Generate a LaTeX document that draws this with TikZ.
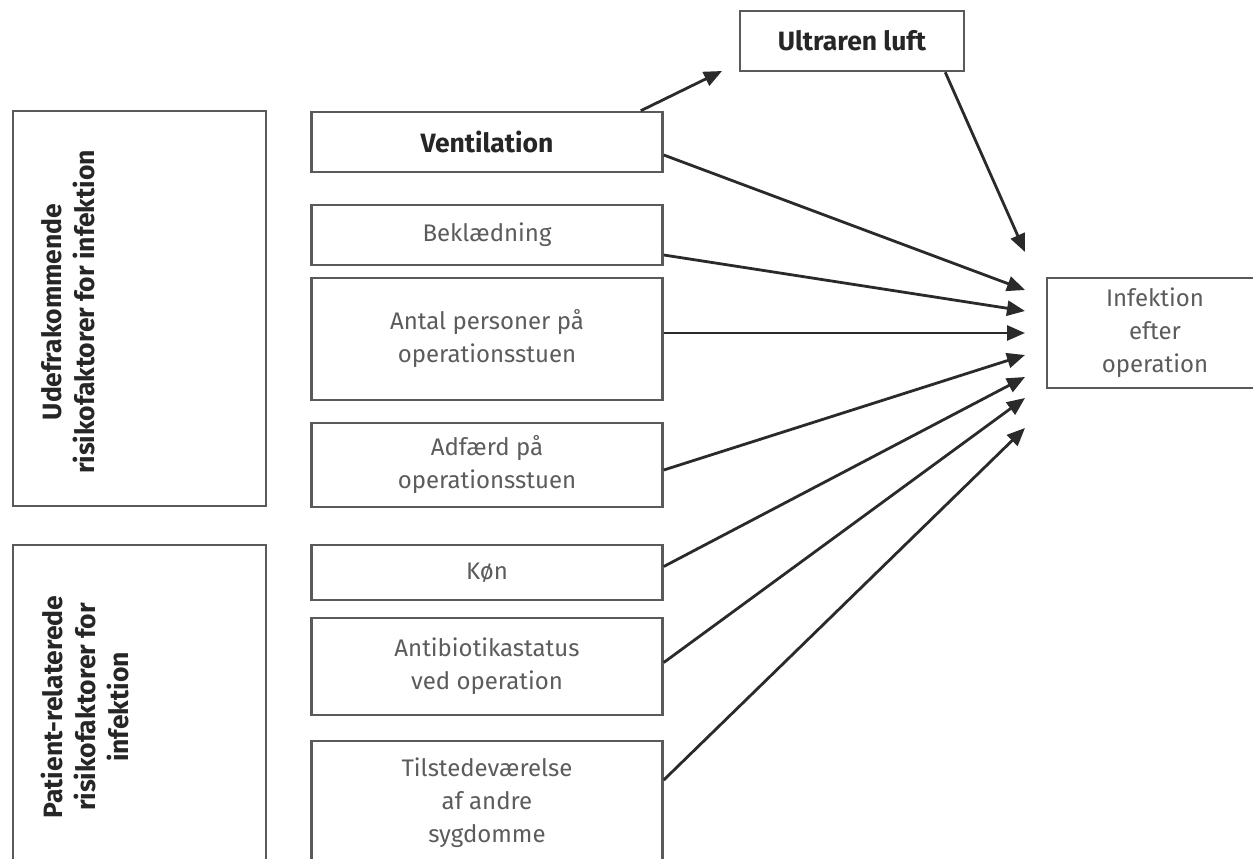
\documentclass[tikz,border=0pt]{standalone}
\usepackage{fontspec}
\setmainfont{Fira Sans}
\usetikzlibrary{arrows.meta,calc}
\definecolor{boxline}{HTML}{5A5A5A}
\definecolor{txtgray}{HTML}{5C5C5C}
\definecolor{arrowc}{HTML}{2A2A2A}
\begin{document}
\begin{tikzpicture}[x=1pt,y=-1pt,
  box/.style={draw=boxline,line width=2.5pt,fill=white,inner sep=0pt,align=center,
    text=txtgray,font=\fontsize{24}{33}\selectfont},
  boldbox/.style={box,text=black!85,font=\fontsize{26.5}{33}\selectfont\bfseries},
  sidetext/.style={rotate=90,align=center,text=black!85,font=\fontsize{26.5}{33}\selectfont\bfseries},
  conn/.style={draw=arrowc,line width=2.8pt,-{Triangle[length=18pt,width=15pt]}}]
\useasboundingbox (0,0) rectangle (1253,859);
\fill[white] (0,0) rectangle (1253,859);
% left group boxes
\node[box,minimum width=253pt,minimum height=395pt] (grp1) at (139.5,308.5) {};
\node[sidetext] (grp1t) at (68,312) {Udefrakommende\\risikofaktorer for infektion};
\node[box,minimum width=253pt,minimum height=380pt] (grp2) at (139.5,735) {};
\node[sidetext] (grp2t) at (85,707) {Patient-relaterede\\risikofaktorer for\\infektion};
% factor boxes
\node[boldbox,minimum width=351pt,minimum height=60pt] (vent) at (487,142) {Ventilation};
\node[box,minimum width=351pt,minimum height=60pt] (bekl) at (487,235) {Beklædning};
\node[box,minimum width=351pt,minimum height=122pt] (antal) at (487,339) {Antal personer på\\operationsstuen};
\node[box,minimum width=351pt,minimum height=84pt] (adf) at (487,465) {Adfærd på\\operationsstuen};
\node[box,minimum width=351pt,minimum height=55pt] (kon) at (487,572.5) {Køn};
\node[box,minimum width=351pt,minimum height=97pt] (anti) at (487,666.5) {Antibiotikastatus\\ved operation};
\node[box,minimum width=351pt,minimum height=124pt] (tilst) at (487,803) {Tilstedeværelse\\af andre\\sygdomme};
% top and outcome
\node[boldbox,minimum width=224pt,minimum height=60pt] (ultra) at (852,41) {Ultraren luft};
\node[box,minimum width=240pt,minimum height=110pt] (inf) at (1167,333) {\hspace*{-24pt}\begin{tabular}{@{}c@{}}Infektion\\efter\\operation\end{tabular}};
% arrow tips
\coordinate (tu) at (722,71);
\coordinate (tw) at (1025,252);
\coordinate (t1) at (1025,290);
\coordinate (t2) at (1025,311);
\coordinate (t3) at (1025,333);
\coordinate (t4) at (1025,355);
\coordinate (t5) at (1025,377);
\coordinate (t6) at (1025,398);
\coordinate (t7) at (1025,428);
% connectors
\draw[conn] ($(vent.north east)+(-23,0)$) -- (tu);
\draw[conn] ($(ultra.south east)+(-20,0)$) -- (tw);
\draw[conn] ($(vent.east)+(0,13)$) -- (t1);
\draw[conn] ($(bekl.east)+(0,20)$) -- (t2);
\draw[conn] ($(antal.east)+(0,-6)$) -- (t3);
\draw[conn] ($(adf.east)+(0,5)$) -- (t4);
\draw[conn] ($(kon.east)+(0,-6)$) -- (t5);
\draw[conn] ($(anti.east)+(0,-4)$) -- (t6);
\draw[conn] ($(tilst.east)+(0,-23)$) -- (t7);
\end{tikzpicture}
\end{document}
